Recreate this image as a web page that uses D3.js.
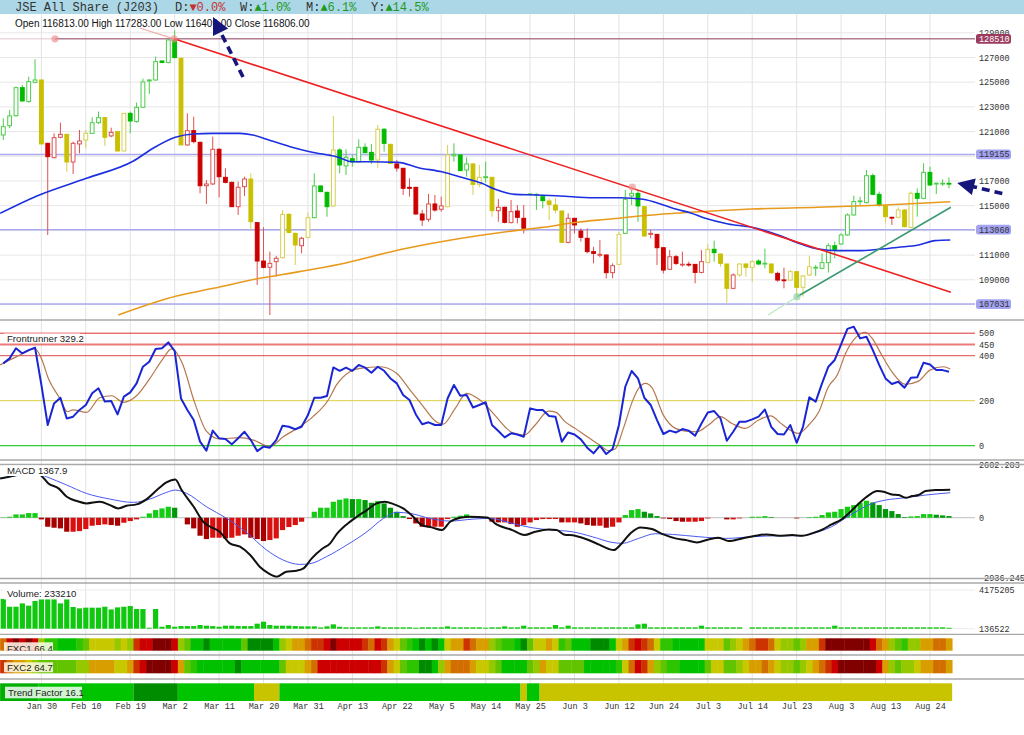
<!DOCTYPE html>
<html>
<head>
<meta charset="utf-8">
<title>JSE All Share (J203)</title>
<script src="https://cdn.jsdelivr.net/npm/d3@7/dist/d3.min.js"></script>
<style>
  body { margin: 0; background: #fff; }
  svg { display: block; }
</style>
</head>
<body>
<script>
// ---- header / summary values ----
const titleText = 'JSE All Share (J203)';
const statLabels = ['D:', 'W:', 'M:', 'Y:'];
const statValues = [0.0, 1.0, 6.1, 14.5];
const statUp = [false, true, true, true];
const frLast = 329.2, macdLast = 1367.9, volLast = 233210;
const fxc1Last = 66.4, fxc2Last = 64.7, trendLast = 16.1;

// ---- x axis ticks (candle index) ----
const tickIdx = [6, 13, 20, 27, 34, 41, 48, 55, 62, 69, 76, 83, 90, 97, 104, 111, 118, 125, 132, 139, 146];
const tickLabels = ['Jan 30', 'Feb 10', 'Feb 19', 'Mar 2', 'Mar 11', 'Mar 20', 'Mar 31', 'Apr 13', 'Apr 22',
  'May 5', 'May 14', 'May 25', 'Jun 3', 'Jun 12', 'Jun 24', 'Jul 3', 'Jul 14', 'Jul 23', 'Aug 3', 'Aug 13', 'Aug 24'];

// ---- daily candles ----
const open = [120730,121480,122290,124560,123430,124990,125180,120050,118890,120540,
  120780,118540,120000,120320,120860,121720,122130,120650,121000,119430,
  122480,121810,122970,125100,125180,126720,126590,128420,126940,119920,
  121080,120130,116620,116760,119570,117300,116890,114920,116540,117160,
  113630,110520,110010,110470,110790,114300,112760,111760,112440,114030,
  116600,116080,114980,119510,118220,118810,118540,119730,119320,118700,
  121190,119970,118380,118030,116490,116490,114330,113900,115140,114710,
  114920,119050,119110,117890,118380,116730,117270,117300,114600,114870,
  113630,114570,113980,115930,115870,115730,115380,115060,114570,112030,
  113980,112950,112360,111280,110980,111010,109580,110250,112760,115790,
  116000,114920,112680,112680,111600,109850,110870,110240,110260,110250,
  109600,110410,111470,111090,110280,108310,109390,110280,110010,110520,
  110320,110280,109520,108990,108980,109660,108390,109390,110000,109930,
  110390,111760,111900,112630,114250,115370,115250,117430,115920,114980,
  114060,114060,114650,113250,116000,115600,117700,116800,116800,116813];
const high = [122080,122750,124640,124780,125450,126860,125200,120100,120860,121720,
  120800,120190,121130,121130,122160,122620,122160,121320,121020,122500,
  122620,123350,125290,125240,127070,126750,128480,129200,126990,122480,
  122210,120190,117080,120590,119650,118030,116950,116950,117350,117620,
  113650,113250,111280,110930,114650,114380,112820,112490,114440,117620,
  116620,116140,122270,119650,119570,119110,120380,120050,120000,121540,
  121270,120000,118700,118050,117220,116520,114650,115950,115870,115730,
  119920,120050,119130,118920,118400,118300,118570,117330,115540,114920,
  115460,115060,115060,116000,116000,115760,115600,115600,114600,114380,
  114000,113170,113170,111680,112220,111030,110330,112900,116270,116280,
  116270,114950,113030,112700,111620,111410,111010,111280,110470,110270,
  111410,111870,112170,111110,110300,109520,110330,110330,110600,110660,
  111520,110300,109660,109980,109790,109680,109390,110930,110200,111140,
  111950,112090,112760,114380,115810,115730,117890,117620,116140,115000,
  114110,114870,114730,116140,116410,118430,118160,116870,117140,117283];
const low = [120320,121270,122210,123430,123350,124910,119990,112630,118840,120460,
  117760,117570,119240,119650,120810,121620,119840,120540,119400,119400,
  120860,121730,122940,124050,125130,126560,126530,126940,119900,119860,
  120050,116000,115140,116680,115680,116810,114900,114250,115790,113030,
  108580,109930,106150,109250,110740,112760,110200,111140,112360,113980,
  116100,114110,114920,117620,117490,118160,118490,119240,118380,118030,
  119380,118400,117760,115870,115730,114250,113360,113710,114520,114520,
  114870,118570,117800,117350,115870,116490,116870,114110,113710,113570,
  113570,113570,112760,115900,114650,114790,113840,114380,112000,111950,
  112760,112090,111140,110330,110820,109120,109120,110200,112710,115060,
  113710,112490,112360,110200,109520,109790,110200,110060,110060,108710,
  109520,110330,110470,110060,107150,108230,109250,109250,108850,110200,
  109930,109470,108850,108310,108930,107630,107630,109310,109310,109850,
  109580,110740,111820,112550,114190,115060,115190,115870,114920,113630,
  113440,113980,113250,113170,114110,115520,116600,115950,116600,116409];
const close = [121400,122270,124560,123480,125050,125180,120000,118970,120510,120780,
  118540,120050,120240,120860,121720,122130,120540,120940,119430,122480,
  121860,122970,125020,125180,126670,126590,128420,126990,119920,121080,
  120190,116620,116760,119570,117350,116890,114920,116490,117160,113710,
  110520,110010,110330,110740,114300,112840,111820,112360,114030,116600,
  116140,114920,119510,118300,118920,118540,119730,119300,118700,121190,
  120050,118430,118050,116410,116410,114330,113840,115140,114650,114980,
  119110,119160,117840,118380,116730,117300,117350,114600,114870,113650,
  114520,114060,113170,115960,115920,115410,115110,114650,112030,113980,
  113440,112440,111280,111140,111060,109580,110140,112680,115520,116000,
  114980,112550,112760,111600,109790,110870,110330,110260,110240,109600,
  110470,111470,111200,110330,108310,109390,110280,110010,110470,110280,
  110340,109580,108980,108970,109660,108390,109310,110060,110010,110390,
  111760,111470,112630,114250,115330,115390,117430,115920,115060,114110,
  114050,114650,113300,116000,115600,117700,116680,116820,116820,116806];
// G = green, R = red, Y = yellow candle state
const candleState = ('GGGGGGYRRR' + 'YRRYGGYRYY' + 'GGGGGGGGYR' + 'RRRRRRRRRY' + 'RRRRYYYRYG' +
  'GGYGGGGGGY' + 'GYRRRRRRRR' + 'YGGGYYGYRR' + 'RRRGGGYYYR' + 'RRRRRRRYGG' +
  'GYRRRRRRRR' + 'RYGYYRYYYG' + 'GYRRYYYYGG' + 'GGGGGGGGGY' + 'RYYYGGGGGG').split('');

// ---- price overlays ----
const levelValues = [128510, 119155, 113060, 107031];
const priceTicks = [109000, 111000, 115000, 117000, 121000, 123000, 125000, 127000, 129000];
const maBlueIdx = [-0.5,5.3,13.1,20.5,23.6,27.1,29.9,33,37.3,39.3,41.5,45.2,48.3,53,54.9,57.5,62.2,65.4,69.1,72.2,
  75.4,77.5,80.6,84,87.7,93,97.2,100.8,104,106.1,108.2,110.6,114.2,117.9,122.1,125.8,128.4,131.5,134.7,137.9,
  141,144.2,146.8,149.2];
const maBlueVal = [114380,115790,117220,118620,119650,120540,120810,120860,120860,120730,120380,119780,119370,118890,118560,118560,118510,118080,117750,117300,
  116810,116330,115920,115870,115790,115650,115650,115520,115060,114710,114430,113980,113520,113250,112630,111870,111490,111360,111360,111470,
  111630,111820,112170,112220];
const maOrangeIdx = [18.1,27.3,33.1,40.4,46.7,53,62.8,80.6,85.1,90.3,95.6,100.8,108.2,117.9,128.4,138.9,149.2];
const maOrangeVal = [106150,107690,108310,109120,109660,110260,111470,112980,113250,113660,113920,114190,114470,114730,114870,115060,115320];
// trend lines: [index, value] anchors
const downTrend = [[26.9, 128510], [149.3, 108000]];
const downTrendExt = [[21.5, 129390], [26.9, 128510]];
const upTrend = [[125.05, 107630], [149.3, 114870]];
const upTrendExt = [[120.5, 106150], [125.05, 107630]];
const pinkMarks = [[8.15, 128510], [26.9, 128510], [99.1, 116514]];
const greenMarks = [[125.05, 107630]];
const arrows = [[[37.77, 125420], [33.04, 130280]], [[157.4, 115990], [150.3, 116840]]];

// ---- Frontrunner ----
const frBlue = [366,388,433,410,425,436,270,92,188,213,
  121,129,159,181,233,255,196,199,139,218,
  237,277,351,373,430,433,459,421,210,159,
  114,18,-22,67,33,30,6,33,62,25,
  -24,-4,-9,25,89,84,73,84,136,213,
  213,221,348,333,347,333,359,347,324,351,
  333,299,277,225,203,139,95,104,92,92,
  210,270,222,225,170,181,193,92,65,37,
  55,50,40,166,159,159,132,129,18,59,
  50,28,-9,-34,0,-37,-15,92,262,332,
  299,213,181,114,52,67,59,74,67,44,
  99,148,154,121,22,62,107,107,117,129,
  161,84,52,50,92,13,84,215,196,277,
  351,381,450,519,529,477,484,425,359,299,
  274,284,258,302,304,369,361,336,336,329];
const frSigIdx = [-0.5,2.1,5,6,7.1,8.9,10.1,11,13.1,15.2,17.1,18.9,21,23.1,25.2,26.5,28.1,30.1,32,34.1,
  37.3,39.4,42,44.1,46.7,48.8,51.2,52.5,54.6,56.2,59.4,62,64.1,66.2,68.3,69.3,71.2,73,75.1,77.2,
  79.3,80.1,82.1,83.8,85.9,87.1,88.5,90.1,92.2,94.1,95.4,96.4,97.7,99.1,100.1,101.2,102.2,104,105.9,107.5,
  109.3,111.1,113,114.8,116.9,119,120.9,122.7,125.3,126.9,128.5,130,131.4,132.7,134.3,135.8,136.9,138.4,140,142.1,
  144.2,146,148.1,149.2];
const frSigVal = [359,396,430,388,299,210,151,159,148,213,222,193,222,299,388,430,373,196,65,30,
  36,25,-4,40,84,129,203,270,329,344,351,321,247,173,104,96,166,233,203,144,
  77,59,47,92,154,148,107,77,36,0,-22,-15,77,196,255,277,258,136,77,65,
  62,92,129,99,77,114,133,95,55,92,151,262,314,410,480,504,477,403,329,273,
  287,336,351,341];
const frLevels = [500, 450, 400, 200, 0];

// ---- MACD ----
const macdMax = 2602.283, macdMin = -2936.245;
const macdIdx = [-0.5,1.6,3,5,6,7.1,8.7,10,11.6,13.1,15.2,16.8,18.1,19.4,21,22.6,24.2,25.7,27.1,28.1,
  30,31.5,32.6,34.1,35.7,37.3,38.9,40.4,41.8,43.1,44.6,46.2,47.3,48.6,50.2,51.5,52.5,54.1,55.7,57.3,
  58.8,60.1,61.5,63,64.6,65.9,67.5,69.1,70.4,72,73.5,76.2,77.7,80.2,82.1,83.8,85.9,87.2,88.3,90.1,
  92.2,93.8,95.4,96.2,97.2,98.8,100.4,102.2,104,105.9,107.5,109.3,111.1,112.7,114.3,116.4,118.5,120.3,122.2,124.3,
  125.9,127.4,129.2,130.5,131.9,133.2,134.8,136.4,137.7,138.7,140,141.1,142.2,143.2,144.2,145.3,146.9,149.2];
const macdVal = [1922,2053,2166,2215,2053,1678,1434,1026,815,700,782,619,456,586,652,912,1352,1727,1873,1352,
  538,-195,-440,-684,-1254,-1417,-1824,-2395,-2720,-2883,-2639,-2590,-2476,-1987,-1531,-1254,-815,-326,49,375,
  700,782,668,456,49,-358,-472,-603,-195,0,49,16,-326,-603,-847,-684,-570,-603,-815,-880,
  -1091,-1303,-1531,-1580,-1336,-766,-472,-554,-815,-1010,-1091,-1205,-1059,-977,-1140,-1010,-880,-815,-880,-847,
  -880,-766,-554,-326,-114,212,700,1108,1303,1271,1140,1108,977,1059,1108,1303,1352,1368];
const macdSigIdx = [-0.5,2.1,5.3,6.8,10,13.1,16.8,20.5,23.1,25.7,27.1,28.9,32,35.2,38.3,41.5,44.1,46.7,48.3,50.9,
  54.1,57.3,59.9,62,64.1,67.2,70.4,74.1,76.7,80.2,83.3,86.4,89.6,92.8,95.9,97.5,100.1,102.7,105.4,109.6,
  113.8,118,122.2,125.8,128.5,130.5,132.6,134.8,136.9,139,142.1,145.3,149.2];
const macdSigVal = [1922,2053,2166,2004,1596,1189,912,749,912,1238,1352,1189,538,-33,-717,-1580,-2069,-2281,-2248,-1906,
  -1336,-684,-33,261,212,-33,-163,-65,-33,-277,-489,-603,-684,-929,-1205,-1254,-1010,-782,-815,-929,
  -1010,-929,-880,-880,-684,-440,-33,375,700,863,977,1108,1222];
const macdHist = [16,49,163,163,228,228,-81,-440,-489,-521,
  -684,-684,-652,-554,-391,-358,-326,-358,-391,-244,
  -163,-81,49,212,375,456,538,489,0,-326,
  -521,-880,-1043,-977,-977,-1010,-977,-880,-815,-977,
  -1043,-1140,-1091,-1010,-603,-456,-358,-195,0,293,
  489,489,782,880,945,912,912,863,733,815,
  700,489,293,81,-65,-277,-440,-440,-440,-440,
  -65,49,98,163,49,33,0,-195,-228,-228,
  -310,-440,-358,-228,-114,-65,-65,-65,-228,-228,
  -228,-277,-358,-391,-391,-489,-440,-228,130,375,
  424,293,212,81,-33,-65,-163,-195,-195,-195,
  -163,-33,0,0,-81,-81,-33,0,49,49,
  81,33,0,0,0,-33,0,33,49,130,
  261,293,424,538,619,733,831,749,619,424,
  326,179,33,65,81,179,179,147,114,81];

// ---- Volume (thousands) ----
const volMax = 4175.205, volMin = 136.522;
const volume = [3240,2430,2430,2780,2540,3030,3240,3240,3240,2780,
  3240,2400,2260,2330,2330,2330,2430,2150,2360,2430,
  2500,2190,2190,240,2190,340,520,340,410,410,
  410,520,450,410,340,450,450,410,410,410,
  660,870,520,450,450,450,410,380,380,380,
  270,380,590,340,280,280,280,280,280,380,
  280,280,280,280,280,240,280,280,280,280,
  380,280,280,280,280,280,240,280,280,380,
  280,280,450,280,280,280,280,520,280,450,
  280,280,280,280,280,280,280,280,280,280,
  590,660,280,280,280,280,280,280,280,280,
  450,280,280,280,280,280,280,0,280,280,
  280,280,280,280,280,280,280,280,280,280,
  280,450,280,280,280,280,280,280,280,280,
  280,280,280,280,280,280,280,280,280,233];

// ---- FXC heat rows (level 0 = strongest green ... 10 = darkest red) ----
const fxc1 = [7,9,10,9,10,9,4,2,2,1, 1,1,2,3,5,5,5,5,4,5, 4,8,9,9,10,10,10,9,4,3,
  1,1,0,1,1,1,1,1,3,0, 0,0,0,1,4,5,6,6,7,8, 8,9,10,9,9,9,9,8,7,9,
  8,6,5,3,2,1,0,1,0,1, 5,6,6,8,7,6,6,4,3,2, 2,1,0,3,5,5,6,5,2,3,
  1,1,1,0,0,0,1,5,6,8, 9,8,7,5,2,2,1,1,1,1, 1,5,5,5,3,4,5,6,7,8,
  8,7,5,4,4,3,4,6,6,8, 10,10,10,10,10,10,10,9,7,6, 4,3,2,4,4,6,6,7,7,6];
const fxc2 = [8,7,6,6,5,4,3,3,3,3, 3,3,4,4,6,6,6,6,5,5, 6,8,9,10,10,10,10,9,6,3,
  2,1,1,1,1,1,1,0,1,1, 1,1,1,1,3,5,5,5,6,7, 9,9,9,9,9,9,9,9,9,9,
  8,6,5,3,2,2,0,0,1,4, 6,7,7,7,6,5,5,4,3,1, 1,1,1,3,4,6,5,5,3,3,
  3,3,1,1,1,1,1,2,5,7, 9,8,6,4,3,2,2,1,1,1, 1,3,5,5,3,3,4,5,6,6,
  7,6,5,4,4,3,4,5,6,7, 8,9,10,10,10,10,10,10,9,6, 4,3,4,4,5,6,6,7,7,6];
const trendStart = [0, 6, 21, 28, 40, 44, 82, 83, 85];
const trendEnd = [5, 20, 27, 39, 43, 81, 82, 84, 149];
const trendState = ['firm', 'up', 'strong', 'up', 'flat', 'up', 'flat', 'up', 'flat'];

// ================= drawing =================
const W = 1024, H = 735, plotRight = 975;
const mono = '"Liberation Mono", "DejaVu Sans Mono", monospace';
const sans = '"Liberation Sans", Arial, sans-serif';

const svg = d3.select('body').append('svg').attr('width', W).attr('height', H);
const defs = svg.append('defs');
function clipTo(id, y0, y1) {
  defs.append('clipPath').attr('id', id).append('rect')
    .attr('x', 0).attr('y', y0).attr('width', plotRight).attr('height', y1 - y0);
  return 'url(#' + id + ')';
}

const x = d3.scaleLinear().domain([-0.52, 153.1]).range([0, plotRight]);
const yMain = d3.scaleLinear().domain([105907, 129227]).range([318, 30]);
const yFr = d3.scaleLinear().domain([0, 500]).range([445.7, 333.2]);
const yMacd = d3.scaleLinear().domain([macdMin, macdMax]).range([577.8, 464.5]);
const yVol = d3.scaleLinear().domain([volMin, volMax]).range([628.7, 590]);
const step = x(1) - x(0);

// header band
svg.append('rect').attr('width', W).attr('height', 14).attr('fill', '#acd7e6');
svg.append('text').attr('x', 15).attr('y', 11.3).attr('font-family', mono).attr('font-size', 12)
  .attr('fill', '#333').text(titleText);
const statX = [175, 240, 306, 371];
statLabels.forEach((lab, k) => {
  const t = svg.append('text').attr('x', statX[k]).attr('y', 11.3).attr('font-family', mono).attr('font-size', 12);
  t.append('tspan').attr('fill', '#333').text(lab);
  t.append('tspan').attr('fill', statUp[k] ? '#1f9a1f' : '#c83030')
    .text((statUp[k] ? '\u25B2' : '\u25BC') + statValues[k].toFixed(1) + '%');
});

// grid
const grid = svg.append('g');
grid.selectAll('line.v').data(tickIdx).join('line').attr('class', 'v')
  .attr('x1', d => x(d)).attr('x2', d => x(d)).attr('y1', 14).attr('y2', 702)
  .attr('stroke', '#e3e3e3').attr('stroke-width', 1);
grid.selectAll('line.h').data(d3.range(107000, 129001, 2000)).join('line').attr('class', 'h')
  .attr('x1', 0).attr('x2', plotRight).attr('y1', d => yMain(d)).attr('y2', d => yMain(d))
  .attr('stroke', '#e6e6e6');

svg.append('text').attr('x', 15).attr('y', 26.5).attr('font-family', sans).attr('font-size', 10)
  .attr('fill', '#111')
  .text(`Open ${open[149].toFixed(2)} High ${high[149].toFixed(2)} Low ${low[149].toFixed(2)} Close ${close[149].toFixed(2)}`);

// ---------- main price panel ----------
const main = svg.append('g').attr('clip-path', clipTo('clipMain', 15, 319));
// horizontal level lines
main.append('line').attr('x1', 0).attr('x2', x(8.15)).attr('y1', yMain(levelValues[0])).attr('y2', yMain(levelValues[0]))
  .attr('stroke', '#e2c6cc').attr('stroke-width', 1);
main.append('line').attr('x1', x(8.15)).attr('x2', plotRight).attr('y1', yMain(levelValues[0])).attr('y2', yMain(levelValues[0]))
  .attr('stroke', '#8a3b5a').attr('stroke-width', 1);
main.selectAll('line.lvl').data(levelValues.slice(1)).join('line').attr('class', 'lvl')
  .attr('x1', 0).attr('x2', plotRight).attr('y1', d => yMain(d)).attr('y2', d => yMain(d))
  .attr('stroke', '#aaaaf0').attr('stroke-width', 1.5);

const fillCol = { G: '#00bb00', R: '#cc0000', Y: '#c8c000' };
const lineCol = { G: '#4ccc4c', R: '#dd5050', Y: '#d6cf50' };
const candles = open.map((o, i) => ({ i, o, h: high[i], l: low[i], c: close[i], k: candleState[i] }));
main.selectAll('line.wick').data(candles).join('line').attr('class', 'wick')
  .attr('x1', d => x(d.i)).attr('x2', d => x(d.i))
  .attr('y1', d => yMain(d.h)).attr('y2', d => yMain(d.l))
  .attr('stroke', d => lineCol[d.k]).attr('stroke-width', 1);
main.selectAll('rect.body').data(candles).join('rect').attr('class', 'body')
  .attr('x', d => x(d.i) - 1.9).attr('width', 3.8)
  .attr('y', d => yMain(Math.max(d.o, d.c)))
  .attr('height', d => Math.max(0.8, Math.abs(yMain(d.o) - yMain(d.c))))
  .attr('fill', d => d.c >= d.o ? '#fff' : fillCol[d.k])
  .attr('stroke', d => d.c >= d.o ? lineCol[d.k] : fillCol[d.k]).attr('stroke-width', 1);

const curve = d3.line().x(d => x(d[0])).y(d => yMain(d[1])).curve(d3.curveMonotoneX);
main.append('path').datum(d3.zip(maOrangeIdx, maOrangeVal)).attr('d', curve)
  .attr('fill', 'none').attr('stroke', '#e89a1c').attr('stroke-width', 1.6);
main.append('path').datum(d3.zip(maBlueIdx, maBlueVal)).attr('d', curve)
  .attr('fill', 'none').attr('stroke', '#1c2fe0').attr('stroke-width', 1.6);

const straight = d3.line().x(d => x(d[0])).y(d => yMain(d[1]));
main.append('path').datum(downTrendExt).attr('d', straight).attr('stroke', '#f2aaaa').attr('stroke-width', 1.2);
main.append('path').datum(downTrend).attr('d', straight).attr('stroke', '#ee2020').attr('stroke-width', 1.6);
main.append('path').datum(upTrendExt).attr('d', straight).attr('stroke', '#b8e8c4').attr('stroke-width', 1.2);
main.append('path').datum(upTrend).attr('d', straight).attr('stroke', '#3a9a72').attr('stroke-width', 1.6);
main.selectAll('circle.pm').data(pinkMarks).join('circle').attr('class', 'pm')
  .attr('cx', d => x(d[0])).attr('cy', d => yMain(d[1])).attr('r', 3.6)
  .attr('fill', '#f08c8c').attr('opacity', 0.65);
main.selectAll('circle.gm').data(greenMarks).join('circle').attr('class', 'gm')
  .attr('cx', d => x(d[0])).attr('cy', d => yMain(d[1])).attr('r', 3.6)
  .attr('fill', '#9ad6a8').attr('opacity', 0.75);

// price axis
const pAxis = svg.append('g').attr('transform', `translate(${plotRight},0)`)
  .call(d3.axisRight(yMain).tickValues(priceTicks).tickSize(0).tickPadding(4).tickFormat(d3.format('d')));
pAxis.select('.domain').remove();
pAxis.selectAll('text').attr('font-family', mono).attr('font-size', 8.5).attr('fill', '#333');
const lvlBox = svg.selectAll('g.lvlbox').data(levelValues).join('g').attr('class', 'lvlbox')
  .attr('transform', d => `translate(${plotRight + 1},${yMain(d)})`);
lvlBox.append('rect').attr('x', 0).attr('y', -4.8).attr('width', 35).attr('height', 9.6).attr('rx', 2.5)
  .attr('fill', (d, k) => k === 0 ? '#9b3c5e' : '#a3a3f2');
lvlBox.append('text').attr('x', 3).attr('dy', '0.34em').attr('font-family', mono).attr('font-size', 8.5)
  .attr('fill', (d, k) => k === 0 ? '#fff' : '#333').text(d => d);

// arrows
const arrowCol = '#15157c';
arrows.forEach(([a, b]) => {
  const x0 = x(a[0]), y0 = yMain(a[1]), x1 = x(b[0]), y1 = yMain(b[1]);
  const len = Math.hypot(x1 - x0, y1 - y0), ux = (x1 - x0) / len, uy = (y1 - y0) / len;
  const hl = 17, hw = 8.5, bx = x1 - ux * hl, by = y1 - uy * hl;
  svg.append('line').attr('x1', x0).attr('y1', y0).attr('x2', bx + ux * 2).attr('y2', by + uy * 2)
    .attr('stroke', arrowCol).attr('stroke-width', 3.6).attr('stroke-dasharray', '8,5');
  svg.append('path').attr('d', `M${x1},${y1}L${bx - uy * hw},${by + ux * hw}L${bx + uy * hw},${by - ux * hw}Z`)
    .attr('fill', arrowCol);
});

// ---------- Frontrunner ----------
const fr = svg.append('g').attr('clip-path', clipTo('clipFr', 321, 459));
const frColors = ['#e03030', '#ec7a7a', '#e04848', '#d8d040', '#30cc30'];
const frWidths = [1, 2, 1, 1, 1.2];
fr.selectAll('line').data(frLevels).join('line')
  .attr('x1', 0).attr('x2', plotRight).attr('y1', d => yFr(d)).attr('y2', d => yFr(d))
  .attr('stroke', (d, k) => frColors[k]).attr('stroke-width', (d, k) => frWidths[k]);
fr.append('path').datum(d3.zip(frSigIdx, frSigVal))
  .attr('d', d3.line().x(d => x(d[0])).y(d => yFr(d[1])).curve(d3.curveMonotoneX))
  .attr('fill', 'none').attr('stroke', '#b5774f').attr('stroke-width', 1.2);
fr.append('path').datum(frBlue)
  .attr('d', d3.line().x((d, i) => x(i)).y(d => yFr(d)))
  .attr('fill', 'none').attr('stroke', '#1a26d4').attr('stroke-width', 2).attr('stroke-linejoin', 'round');
const frAxis = svg.append('g').attr('transform', `translate(${plotRight},0)`)
  .call(d3.axisRight(yFr).tickValues(frLevels).tickSize(0).tickPadding(4));
frAxis.select('.domain').remove();
frAxis.selectAll('text').attr('font-family', mono).attr('font-size', 8.5).attr('fill', '#333');

// ---------- MACD ----------
const mc = svg.append('g').attr('clip-path', clipTo('clipMacd', 465, 578));
mc.append('line').attr('x1', 0).attr('x2', plotRight).attr('y1', yMacd(0)).attr('y2', yMacd(0))
  .attr('stroke', '#bdbdbd');
mc.selectAll('rect').data(macdHist).join('rect')
  .attr('x', (d, i) => x(i) - 2.6).attr('width', 5.2)
  .attr('y', d => Math.min(yMacd(0), yMacd(d)))
  .attr('height', d => Math.abs(yMacd(d) - yMacd(0)))
  .attr('fill', (d, i) => {
    const falling = i > 0 && d < macdHist[i - 1];
    if (d >= 0) return falling ? '#00980a' : '#14cc14';
    return falling ? '#a80000' : '#d91010';
  });
mc.append('path').datum(d3.zip(macdSigIdx, macdSigVal))
  .attr('d', d3.line().x(d => x(d[0])).y(d => yMacd(d[1])).curve(d3.curveMonotoneX))
  .attr('fill', 'none').attr('stroke', '#4a5af0').attr('stroke-width', 1);
mc.append('path').datum(d3.zip(macdIdx, macdVal))
  .attr('d', d3.line().x(d => x(d[0])).y(d => yMacd(d[1])).curve(d3.curveMonotoneX))
  .attr('fill', 'none').attr('stroke', '#111').attr('stroke-width', 2);
const mcAxis = svg.append('g').attr('transform', `translate(${plotRight},0)`)
  .call(d3.axisRight(yMacd).tickValues([macdMax, 0, macdMin]).tickSize(0).tickPadding(4)
    .tickFormat(d => d === 0 ? '0' : d.toFixed(3)));
mcAxis.select('.domain').remove();
mcAxis.selectAll('text').attr('font-family', mono).attr('font-size', 8.5).attr('fill', '#333');

// ---------- Volume ----------
const vg = svg.append('g');
[volMax, volMin].forEach(v => vg.append('line').attr('x1', 0).attr('x2', plotRight)
  .attr('y1', yVol(v)).attr('y2', yVol(v)).attr('stroke', '#ececec'));
vg.selectAll('rect').data(volume).join('rect')
  .attr('x', (d, i) => x(i) - 2.6).attr('width', 5.2)
  .attr('y', d => yVol(Math.max(d, volMin)))
  .attr('height', d => Math.max(0, yVol(volMin) - yVol(d)))
  .attr('fill', '#10c810');
const vAxis = svg.append('g').attr('transform', `translate(${plotRight},0)`)
  .call(d3.axisRight(yVol).tickValues([volMax, volMin]).tickSize(0).tickPadding(4)
    .tickFormat(d => Math.round(d * 1000)));
vAxis.select('.domain').remove();
vAxis.selectAll('text').attr('font-family', mono).attr('font-size', 8.5).attr('fill', '#333');

// ---------- heat rows ----------
const heatPalette = ['#008a00', '#00c000', '#2ec400', '#62c400', '#96c800', '#c8c800',
  '#d89e00', '#d26e00', '#cc3300', '#cc0000', '#800000'];
function heatRow(levels, y0, y1) {
  svg.append('g').selectAll('rect').data(levels).join('rect')
    .attr('x', (d, i) => x(i - 0.5)).attr('width', step + 0.4)
    .attr('y', y0).attr('height', y1 - y0).attr('fill', d => heatPalette[d]);
}
heatRow(fxc1, 638.3, 650.7);
heatRow(fxc2, 660, 673.3);
const trendColor = { firm: '#00ae00', up: '#00c400', strong: '#008c00', flat: '#c8c400' };
svg.append('g').selectAll('rect').data(d3.range(trendStart.length)).join('rect')
  .attr('x', k => x(trendStart[k] - 0.5)).attr('width', k => x(trendEnd[k] + 0.5) - x(trendStart[k] - 0.5))
  .attr('y', 683.3).attr('height', 17.7).attr('fill', k => trendColor[trendState[k]]);

// panel separators
[320, 460, 464.5, 578.5, 583, 634.3, 655, 679].forEach(y => svg.append('line')
  .attr('x1', 0).attr('x2', W).attr('y1', y).attr('y2', y).attr('stroke', '#a9a9a9').attr('stroke-width', 1.3));

// panel labels
function panelLabel(text, x0, yBase, boxY, boxH, boxW, bg, clipY) {
  const g = svg.append('g');
  if (clipY) g.attr('clip-path', clipTo('clip' + text.replace(/\W/g, ''), clipY[0], clipY[1]));
  g.append('rect').attr('x', x0 - 3).attr('y', boxY).attr('width', boxW).attr('height', boxH).attr('fill', bg);
  g.append('text').attr('x', x0).attr('y', yBase).attr('font-family', sans).attr('font-size', 9.6)
    .attr('fill', '#222').text(text);
}
panelLabel('Frontrunner ' + frLast.toFixed(1), 7, 341.7, 333.5, 9.5, 76, '#fff');
panelLabel('MACD ' + macdLast.toFixed(1), 7, 473.7, 465.5, 10.5, 58, '#fff');
panelLabel('Volume: ' + volLast, 7, 597.3, 589, 10.5, 70, 'rgba(255,255,255,0.85)');
panelLabel('FXC1 ' + fxc1Last.toFixed(1), 7, 652, 642.3, 12, 49, 'rgba(255,255,240,0.85)', [636, 650.7]);
panelLabel('FXC2 ' + fxc2Last.toFixed(1), 7, 671.3, 662.3, 10, 49, 'rgba(255,250,230,0.85)');
panelLabel('Trend Factor ' + trendLast.toFixed(1), 8, 696, 686.7, 11.6, 77, 'rgba(255,255,255,0.82)');

// x axis
const xAxis = svg.append('g').attr('transform', 'translate(0,700)')
  .call(d3.axisBottom(x).tickValues(tickIdx).tickSize(0).tickPadding(3).tickFormat((d, k) => tickLabels[k]));
xAxis.select('.domain').remove();
xAxis.selectAll('text').attr('font-family', mono).attr('font-size', 8.5).attr('fill', '#333');
</script>
</body>
</html>
